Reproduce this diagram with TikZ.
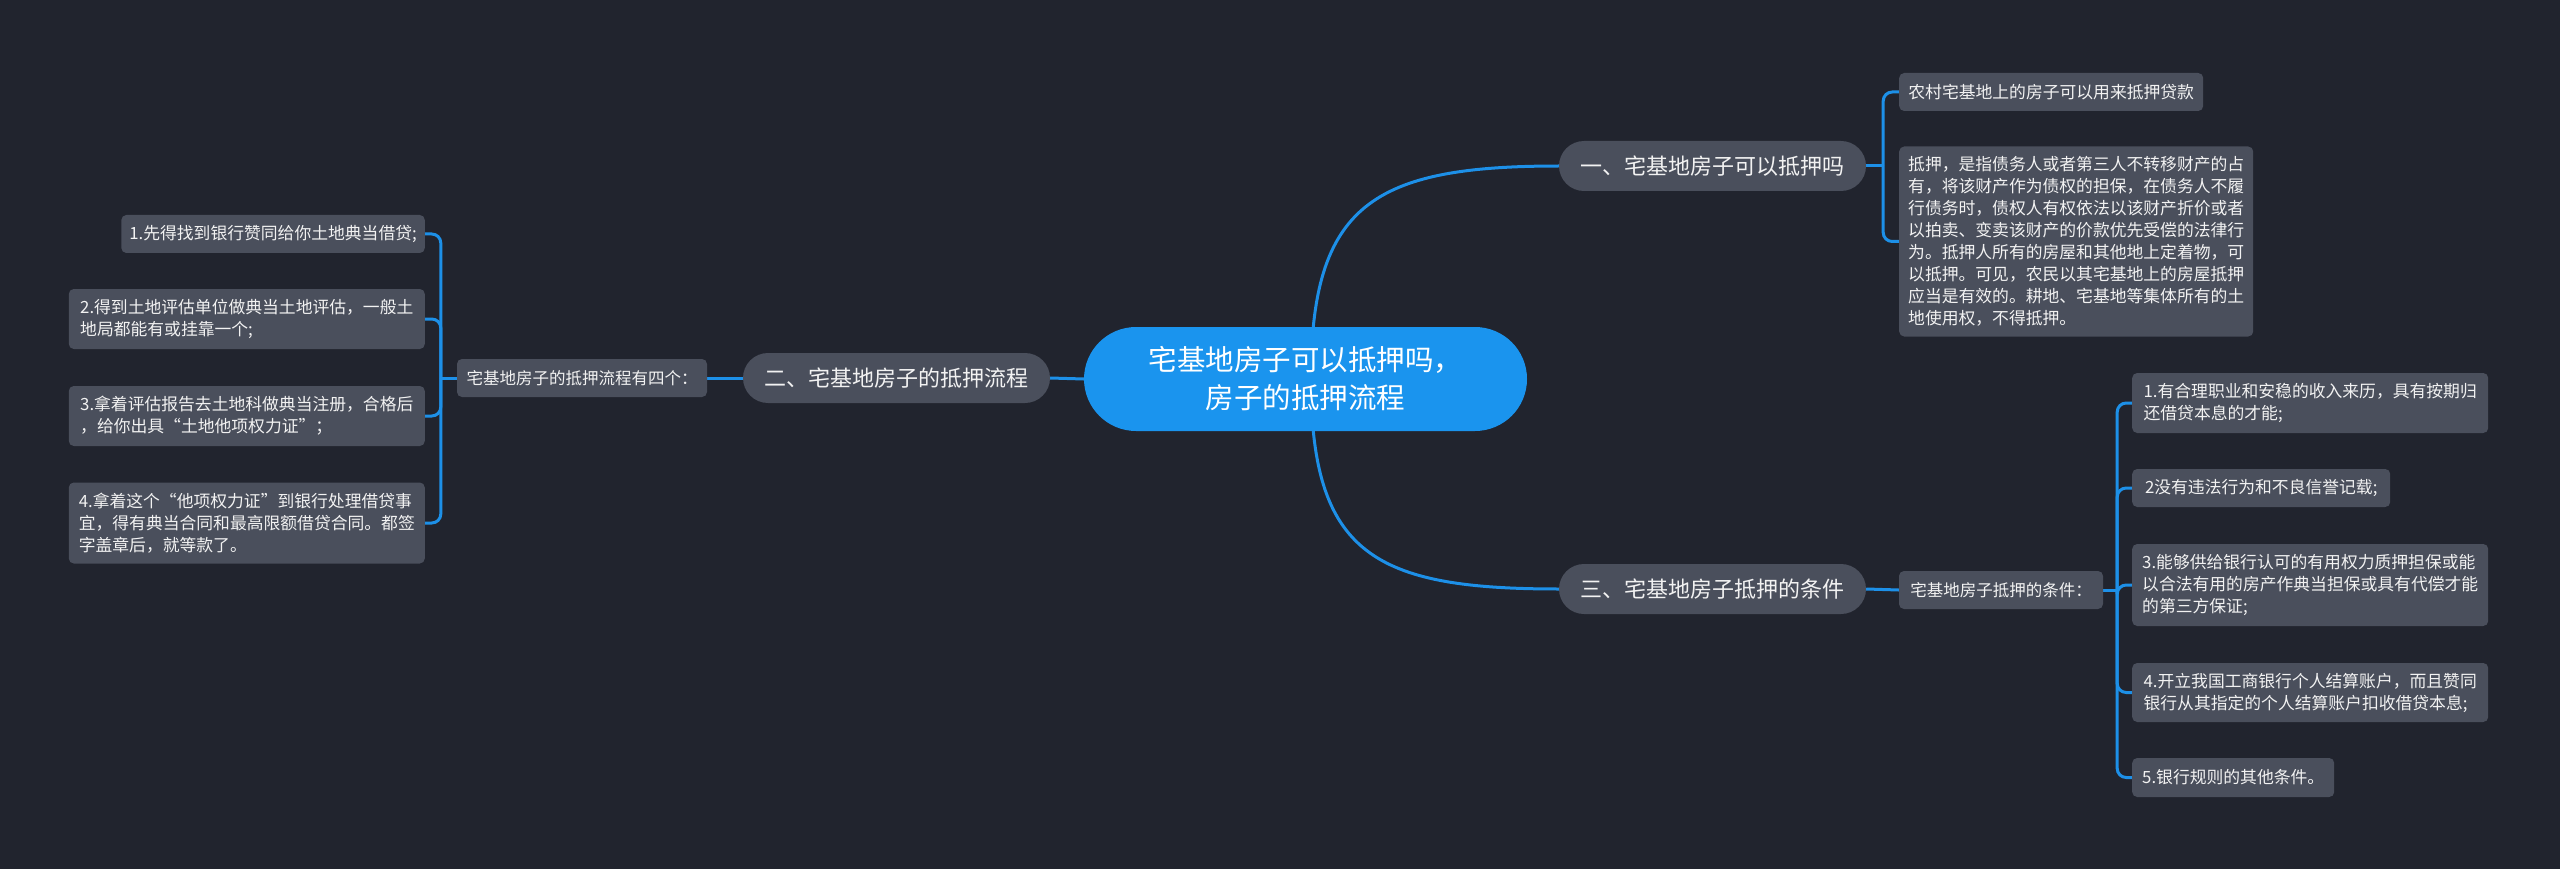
\documentclass[tikz,border=0pt]{standalone}
\usepackage{fontspec}
\newfontfamily\cjk{Noto Sans CJK SC}
\usetikzlibrary{calc}
\pgfdeclarelayer{bg}
\pgfsetlayers{bg,main}
\definecolor{bgc}{HTML}{21242E}
\definecolor{nodec}{HTML}{4A4F5C}
\definecolor{ctr}{HTML}{1A94EE}
\definecolor{linec}{HTML}{1D90E8}
\definecolor{txt}{HTML}{F2F2F2}
\begin{document}
\begin{tikzpicture}[x=1pt,y=-1pt,
  every node/.style={font=\cjk, text=txt},
  centerbox/.style={fill=ctr, rounded corners=52pt, minimum width=443pt, minimum height=104pt, align=center, font=\cjk\fontsize{28.5}{38}\selectfont, text=white, inner sep=0pt},
  branchbox/.style={fill=nodec, rounded corners=25pt, minimum width=307pt, minimum height=50pt, font=\cjk\fontsize{22}{26}\selectfont, inner sep=0pt},
  subbox/.style={fill=nodec, rounded corners=5pt, minimum height=38pt, font=\cjk\fontsize{16.5}{22}\selectfont, inner sep=0pt},
  leafbox/.style={fill=nodec, rounded corners=5pt, align=left, font=\cjk\fontsize{16.8}{22}\selectfont, inner xsep=8pt, inner ysep=0pt},
  conn/.style={draw=linec, line width=3pt},
]
\useasboundingbox (0,0) rectangle (2560,869);

% center and branches
\node[centerbox] (c) at (1305.5,379) {宅基地房子可以抵押吗，\\房子的抵押流程};
\node[branchbox] (b1) at (1712.5,166) {一、宅基地房子可以抵押吗};
\node[branchbox] (b2) at (896.5,378) {二、宅基地房子的抵押流程};
\node[branchbox] (b3) at (1712.5,589) {三、宅基地房子抵押的条件};

% sub nodes
\node[subbox, minimum width=250pt] (s2) at (582,378) {宅基地房子的抵押流程有四个：};
\node[subbox, minimum width=204pt] (s3) at (2001,590) {宅基地房子抵押的条件：};

% branch 1 leaves
\node[leafbox, anchor=west, minimum width=304pt, minimum height=38pt] (l11) at (1899,92) {农村宅基地上的房子可以用来抵押贷款};
\node[leafbox, anchor=west, minimum width=354pt, minimum height=190pt] (l12) at (1899,241.5) {抵押，是指债务人或者第三人不转移财产的占\\有，将该财产作为债权的担保，在债务人不履\\行债务时，债权人有权依法以该财产折价或者\\以拍卖、变卖该财产的价款优先受偿的法律行\\为。抵押人所有的房屋和其他地上定着物，可\\以抵押。可见，农民以其宅基地上的房屋抵押\\应当是有效的。耕地、宅基地等集体所有的土\\地使用权，不得抵押。};

% branch 2 leaves
\node[leafbox, anchor=east, minimum width=303pt, minimum height=38pt] (l21) at (425,234) {1.先得找到银行赞同给你土地典当借贷;};
\node[leafbox, anchor=east, minimum width=356pt, minimum height=60pt] (l22) at (425,319) {2.得到土地评估单位做典当土地评估，一般土\\地局都能有或挂靠一个;};
\node[leafbox, anchor=east, minimum width=356pt, minimum height=60pt] (l23) at (425,416) {3.拿着评估报告去土地科做典当注册，合格后\\，给你出具“土地他项权力证”；};
\node[leafbox, anchor=east, minimum width=356pt, minimum height=81pt] (l24) at (425,523) {4.拿着这个“他项权力证”到银行处理借贷事\\宜，得有典当合同和最高限额借贷合同。都签\\字盖章后，就等款了。};

% branch 3 leaves
\node[leafbox, anchor=west, minimum width=356pt, minimum height=60pt] (l31) at (2132,403) {1.有合理职业和安稳的收入来历，具有按期归\\还借贷本息的才能;};
\node[leafbox, anchor=west, minimum width=258pt, minimum height=38pt] (l32) at (2132,488) {2没有违法行为和不良信誉记载;};
\node[leafbox, anchor=west, minimum width=356pt, minimum height=82pt] (l33) at (2132,585) {3.能够供给银行认可的有用权力质押担保或能\\以合法有用的房产作典当担保或具有代偿才能\\的第三方保证;};
\node[leafbox, anchor=west, minimum width=356pt, minimum height=59pt] (l34) at (2132,692.5) {4.开立我国工商银行个人结算账户，而且赞同\\银行从其指定的个人结算账户扣收借贷本息;};
\node[leafbox, anchor=west, minimum width=202pt, minimum height=39pt] (l35) at (2132,777.5) {5.银行规则的其他条件。};

\begin{pgfonlayer}{bg}
  \fill[bgc] (0,0) rectangle (2560,869);
  \coordinate (cs) at (1311,379);
  \draw[conn] (cs) .. controls +(0,-175) and +(-185,0) .. (b1.west);
  \draw[conn] (cs) .. controls +(0,175) and +(-185,0) .. (b3.west);
  \draw[conn] (c.west) -- (b2.east);
  \draw[conn] (b2.west) -- (s2.east);
  \draw[conn] (b3.east) -- (s3.west);
  % branch 1 bracket
  \coordinate (j1) at ($(b1.east)+(17,0)$);
  \draw[conn] (b1.east) -- (j1);
  \foreach \n in {l11,l12} \draw[conn, rounded corners=9pt] (j1) |- (\n.west);
  % branch 2 bracket
  \coordinate (j2) at ($(s2.west)+(-16,0)$);
  \draw[conn] (s2.west) -- (j2);
  \foreach \n in {l21,l22,l23,l24} \draw[conn, rounded corners=9pt] (j2) |- (\n.east);
  % branch 3 bracket
  \coordinate (j3) at ($(s3.east)+(14,0)$);
  \draw[conn] (s3.east) -- (j3);
  \foreach \n in {l31,l32,l33,l34,l35} \draw[conn, rounded corners=9pt] (j3) |- (\n.west);
\end{pgfonlayer}
\end{tikzpicture}
\end{document}
